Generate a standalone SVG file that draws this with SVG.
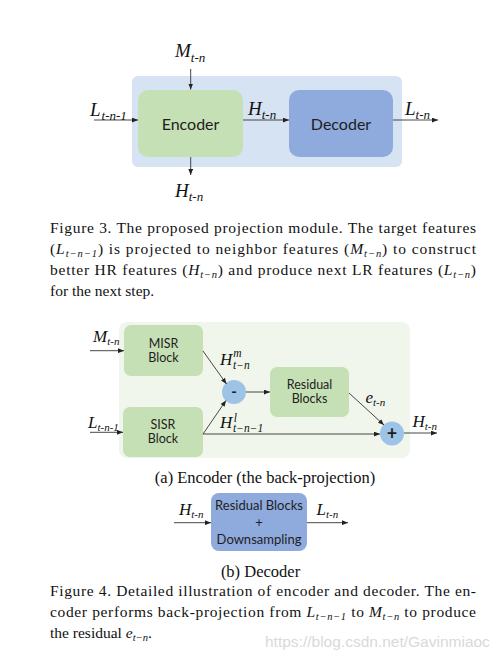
<svg xmlns="http://www.w3.org/2000/svg" width="503" height="663" viewBox="0 0 503 663">
<style>
.blk{font-family:Lato,"Open Sans","Liberation Sans",sans-serif;fill:#1e1e1e;text-anchor:middle}
.m{font-family:"Liberation Serif","Times New Roman",serif;font-style:italic;fill:#111}
.cap{font-family:"Liberation Serif","Times New Roman",serif;font-size:15.5px;fill:#111}
.sub{font-family:"Liberation Serif","Times New Roman",serif;font-size:16.5px;fill:#111;text-anchor:middle}
.i{font-style:italic}
.ln{stroke:#333;stroke-width:0.9;fill:none}
.arr{marker-end:url(#ah)}
</style>
<defs>
<marker id="ah" viewBox="0 0 10 8" refX="10" refY="4" markerWidth="6" markerHeight="5" markerUnits="userSpaceOnUse" orient="auto">
<path d="M0,0 L10,4 L0,8 z" fill="#222"/>
</marker>
</defs>
<rect width="503" height="663" fill="#fff"/>

<!-- Figure 3 -->
<g id="module-bg"><rect x="132" y="76" width="270" height="91" rx="6" fill="#d6e3f3"/></g>
<g id="encoder"><rect x="138" y="90" width="105" height="67" rx="10" fill="#c5e0b4"/><text class="blk" x="190.5" y="129.5" font-size="16">Encoder</text></g>
<g id="decoder"><rect x="289" y="90" width="104" height="67" rx="10" fill="#8faadc"/><text class="blk" x="341" y="129.5" font-size="16">Decoder</text></g>

<g id="connectors-fig3">
<line class="ln arr" x1="190.7" y1="69" x2="190.7" y2="89.5"/>
<line class="ln arr" x1="94" y1="120" x2="138" y2="120"/>
<line class="ln arr" x1="243" y1="120" x2="289" y2="120"/>
<line class="ln arr" x1="393" y1="120" x2="438" y2="120"/>
<line class="ln arr" x1="190.7" y1="157" x2="190.7" y2="175"/>
</g>
<g id="labels-fig3">
<text class="m" x="175" y="57" font-size="19">M<tspan font-size="13" dy="5">t-n</tspan></text>
<text class="m" x="90" y="116" font-size="19">L<tspan font-size="13" dy="4" dx="1">t-n-1</tspan></text>
<text class="m" x="248" y="114.5" font-size="19">H<tspan font-size="13" dy="4">t-n</tspan></text>
<text class="m" x="405" y="114.5" font-size="19">L<tspan font-size="13" dy="4">t-n</tspan></text>
<text class="m" x="175" y="197" font-size="19">H<tspan font-size="13" dy="4">t-n</tspan></text>
</g>

<g id="caption-fig3">
<text class="cap" x="50" y="233" textLength="426" lengthAdjust="spacing">Figure 3. The proposed projection module.  The target features</text>
<text class="cap" x="50" y="254" textLength="426" lengthAdjust="spacing">(<tspan class="i">L</tspan><tspan class="i" font-size="10.5" dy="3">t−n−1</tspan><tspan dy="-3">) is projected to neighbor features (</tspan><tspan class="i">M</tspan><tspan class="i" font-size="10.5" dy="3">t−n</tspan><tspan dy="-3">) to construct</tspan></text>
<text class="cap" x="50" y="275" textLength="426" lengthAdjust="spacing">better HR features (<tspan class="i">H</tspan><tspan class="i" font-size="10.5" dy="3">t−n</tspan><tspan dy="-3">) and produce next LR features (</tspan><tspan class="i">L</tspan><tspan class="i" font-size="10.5" dy="3">t−n</tspan><tspan dy="-3">)</tspan></text>
<text class="cap" x="50" y="296">for the next step.</text>
</g>

<!-- Figure 4a -->
<g id="encoder-bg"><rect x="119" y="322" width="291" height="136" rx="8" fill="#f0f6eb"/></g>
<g id="misr"><rect x="124" y="325" width="79" height="51" rx="7" fill="#c5e0b4"/><text class="blk" x="163.5" y="348" font-size="12.5">MISR</text><text class="blk" x="163.5" y="362" font-size="12.5">Block</text></g>
<g id="sisr"><rect x="123" y="407" width="80" height="50" rx="7" fill="#c5e0b4"/><text class="blk" x="163" y="429" font-size="12.5">SISR</text><text class="blk" x="163" y="443" font-size="12.5">Block</text></g>
<g id="residual"><rect x="270" y="367" width="79" height="50" rx="7" fill="#c5e0b4"/><text class="blk" x="309.5" y="389" font-size="12.5">Residual</text><text class="blk" x="309.5" y="403" font-size="12.5">Blocks</text></g>
<g id="minus"><circle cx="234" cy="392" r="12" fill="#9dc3e6"/><text class="blk" x="234" y="397" font-size="15" font-weight="bold">-</text></g>
<g id="plus"><circle cx="392" cy="433.5" r="12" fill="#9dc3e6"/><text class="blk" x="392" y="439.5" font-size="18" font-weight="bold">+</text></g>

<g id="connectors-fig4a">
<line class="ln arr" x1="90" y1="350.7" x2="124" y2="350.7"/>
<line class="ln arr" x1="90" y1="432.3" x2="123" y2="432.3"/>
<line class="ln arr" x1="203" y1="351" x2="226.5" y2="384"/>
<line class="ln arr" x1="203" y1="434" x2="226" y2="400.5"/>
<line class="ln arr" x1="203" y1="434" x2="380" y2="434"/>
<line class="ln arr" x1="246" y1="392" x2="270" y2="392"/>
<line class="ln arr" x1="349" y1="393" x2="384" y2="425"/>
<line class="ln arr" x1="404" y1="433" x2="437" y2="433"/>
</g>
<g id="labels-fig4a">
<text class="m" x="93" y="342" font-size="17">M<tspan font-size="11" dy="3">t-n</tspan></text>
<text class="m" x="88" y="428" font-size="17">L<tspan font-size="11" dy="3">t-n-1</tspan></text>
<text class="m" x="220" y="365" font-size="17">H<tspan font-size="11.5" dx="1" dy="-8">m</tspan></text>
<text class="m" x="233" y="369" font-size="11.5">t−n</text>
<text class="m" x="220" y="428" font-size="17">H<tspan font-size="11.5" dx="1.5" dy="-6.5">l</tspan></text>
<text class="m" x="233" y="432" font-size="11.5">t−n−1</text>
<text class="m" x="365.5" y="402.5" font-size="17">e<tspan font-size="11" dy="3">t-n</tspan></text>
<text class="m" x="412.5" y="427" font-size="17">H<tspan font-size="11" dy="3">t-n</tspan></text>
</g>
<text class="sub" x="265" y="483">(a) Encoder (the back-projection)</text>

<!-- Figure 4b -->
<g id="decoder-b"><rect x="211" y="493" width="96" height="58" rx="8" fill="#8faadc"/><text class="blk" x="259" y="509.5" font-size="13">Residual Blocks</text><text class="blk" x="259" y="526.5" font-size="13">+</text><text class="blk" x="259" y="544" font-size="13">Downsampling</text></g>
<g id="connectors-fig4b">
<line class="ln arr" x1="174" y1="522.7" x2="211" y2="522.7"/>
<line class="ln arr" x1="307" y1="522.7" x2="348" y2="522.7"/>
</g>
<g id="labels-fig4b">
<text class="m" x="179" y="515" font-size="17">H<tspan font-size="11" dy="3">t-n</tspan></text>
<text class="m" x="316.5" y="515" font-size="17">L<tspan font-size="11" dy="3">t-n</tspan></text>
</g>
<text class="sub" x="260.5" y="577">(b) Decoder</text>

<g id="caption-fig4">
<text class="cap" x="50" y="596" textLength="426" lengthAdjust="spacing">Figure 4. Detailed illustration of encoder and decoder.  The en-</text>
<text class="cap" x="50" y="617" textLength="426" lengthAdjust="spacing">coder performs back-projection from <tspan class="i">L</tspan><tspan class="i" font-size="10.5" dy="3">t−n−1</tspan><tspan dy="-3"> to </tspan><tspan class="i">M</tspan><tspan class="i" font-size="10.5" dy="3">t−n</tspan><tspan dy="-3"> to produce</tspan></text>
<text class="cap" x="50" y="638">the residual <tspan class="i">e</tspan><tspan class="i" font-size="10.5" dy="3">t−n</tspan><tspan dy="-3">.</tspan></text>
</g>

<text x="265" y="647" font-family="'Liberation Sans',Arial,sans-serif" font-size="15.5" fill="#d9d9d9">https://blog.csdn.net/Gavinmiaoc</text>
</svg>
